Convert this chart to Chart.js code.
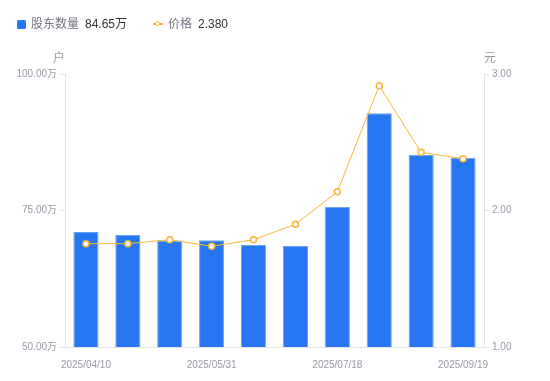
<!DOCTYPE html>
<html>
<head>
<meta charset="utf-8">
<script src="https://cdn.jsdelivr.net/npm/chart.js@4/dist/chart.umd.min.js"></script>
<style>
  html, body { margin: 0; padding: 0; background: #fff; }
  #wrap { position: relative; width: 550px; height: 381px; font-family: "Liberation Sans", "Noto Sans CJK SC", sans-serif; }
  canvas { position: absolute; left: 0; top: 0; }
  .lg { position: absolute; top: 16px; font-size: 12px; line-height: 16px; white-space: nowrap; }
  .nm { color: #757585; }
  .vl { color: #333; margin-left: 6px; }
  .sq { position: absolute; left: 17px; top: 20px; width: 9px; height: 9px; background: #2777f2; border-radius: 1.5px; }
  .ln { position: absolute; left: 153px; top: 23px; width: 10px; height: 2px; background: #f7b53b; }
  .dot { position: absolute; left: 155px; top: 21px; width: 3px; height: 3px; border: 1.5px solid #f7b53b; background: #fff; border-radius: 50%; }
  .unit { position: absolute; top: 48px; font-size: 12px; color: #9a9aa8; }
</style>
</head>
<body>
<div id="wrap">
  <canvas id="c" width="550" height="381"></canvas>
  <div class="sq"></div>
  <div class="lg" style="left:31px"><span class="nm">股东数量</span><span class="vl">84.65万</span></div>
  <div class="ln"></div><div class="dot"></div>
  <div class="lg" style="left:168px"><span class="nm">价格</span><span class="vl">2.380</span></div>
  <div class="unit" style="left:53px">户</div>
  <div class="unit" style="left:484px">元</div>
</div>
<script>
const categories = ["2025/04/10","2025/04/18","2025/04/30","2025/05/31","2025/06/10","2025/06/30","2025/07/18","2025/07/31","2025/08/29","2025/09/19"];
const holders = [71.06, 70.5, 69.5, 69.55, 68.7, 68.5, 75.64, 92.8, 85.22, 84.65];
const price = [1.757, 1.757, 1.786, 1.738, 1.786, 1.899, 2.138, 2.914, 2.426, 2.380];
const leftTicks = [50, 75, 100];
const rightTicks = [1, 2, 3];

const tickColor = '#9a9aa8';
const axisColor = '#e3e3e8';
const fontFam = '"Liberation Sans", "Noto Sans CJK SC", sans-serif';

new Chart(document.getElementById('c'), {
  data: {
    labels: categories,
    datasets: [
      {
        type: 'line', label: '价格', data: price, yAxisID: 'y1',
        borderColor: '#f7b53b', borderWidth: 1, backgroundColor: '#fff',
        pointRadius: 3, pointBorderWidth: 1.5, pointBorderColor: '#f7b53b', pointBackgroundColor: '#fff',
        tension: 0, order: 0
      },
      {
        type: 'bar', label: '股东数量', data: holders, yAxisID: 'y',
        backgroundColor: '#2777f2', borderColor: '#6aa0f5', borderWidth: 1,
        categoryPercentage: 1, barPercentage: 0.6, order: 1
      }
    ]
  },
  options: {
    responsive: false, animation: false,
    layout: { padding: { top: 74, bottom: 13, left: 0, right: 0 } },
    plugins: { legend: { display: false }, tooltip: { enabled: false } },
    scales: {
      x: {
        grid: { display: false },
        border: { display: true, color: axisColor },
        ticks: {
          autoSkip: false, maxRotation: 0, padding: 4, color: tickColor,
          font: { size: 10, family: fontFam },
          callback: function(v, i) { return i % 3 === 0 ? categories[i] : ''; }
        },
        afterFit: function(s) { s.height = 21; }
      },
      y: {
        position: 'left', min: leftTicks[0], max: leftTicks[leftTicks.length - 1],
        afterBuildTicks: function(s) { s.ticks = leftTicks.map(v => ({ value: v })); },
        grid: { drawOnChartArea: false, tickLength: 5, color: axisColor },
        border: { display: true, color: axisColor },
        ticks: { color: tickColor, padding: 3, font: { size: 10, family: fontFam },
          callback: v => v.toFixed(2) + '万' },
        afterFit: function(s) { s.width = 65; }
      },
      y1: {
        position: 'right', min: rightTicks[0], max: rightTicks[rightTicks.length - 1],
        afterBuildTicks: function(s) { s.ticks = rightTicks.map(v => ({ value: v })); },
        grid: { drawOnChartArea: false, tickLength: 5, color: axisColor },
        border: { display: true, color: axisColor },
        ticks: { color: tickColor, padding: 3, font: { size: 10, family: fontFam },
          callback: v => v.toFixed(2) },
        afterFit: function(s) { s.width = 66; }
      }
    }
  }
});
</script>
</body>
</html>
